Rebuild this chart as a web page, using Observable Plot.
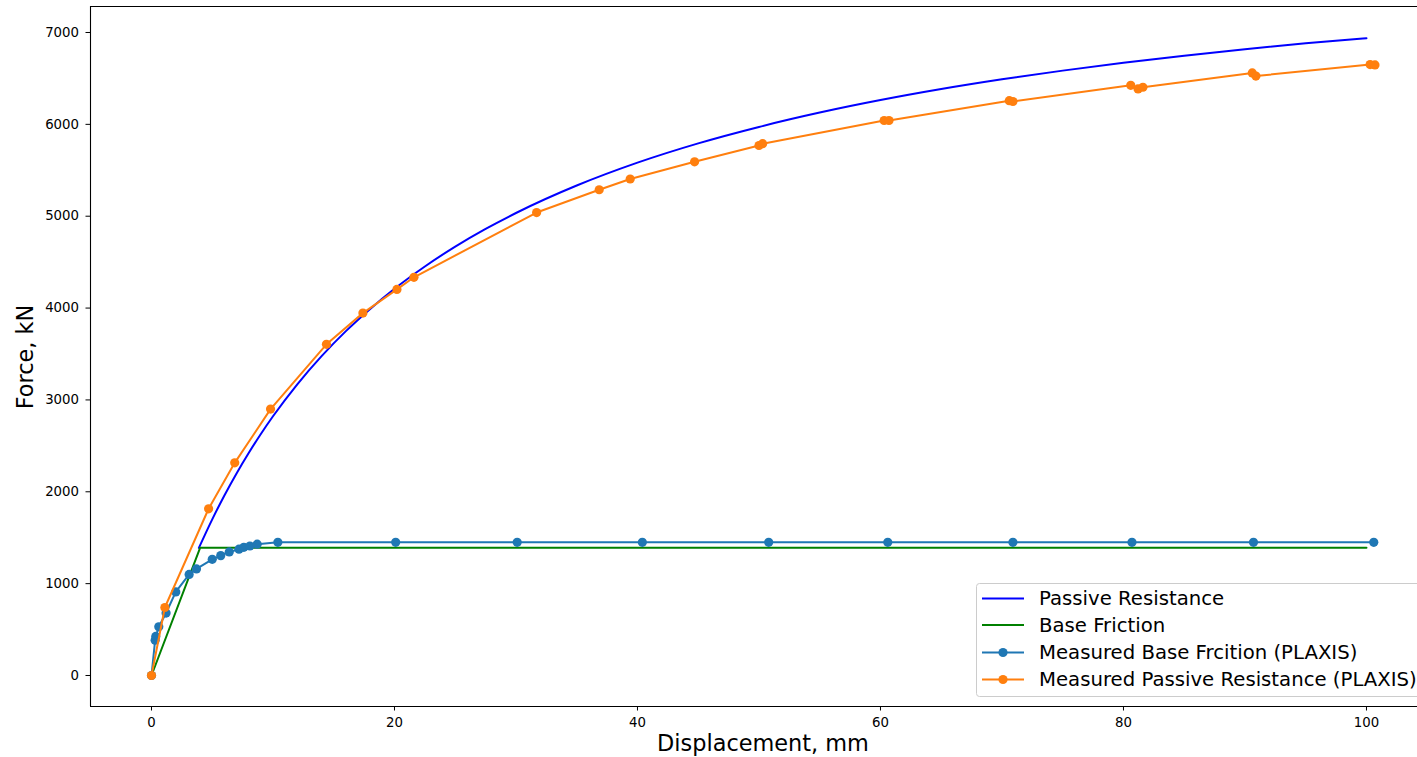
<!DOCTYPE html>
<html>
<head>
<meta charset="utf-8">
<script src="https://cdn.jsdelivr.net/npm/d3@7"></script>
<script src="https://cdn.jsdelivr.net/npm/@observablehq/plot@0.6"></script>
<style>
  html, body { margin: 0; padding: 0; background: white; overflow: hidden; }
  #chart { width: 1417px; height: 757px; }
</style>
</head>
<body>
<div id="chart"></div>
<script>
// ---- Data ----
const xTicks = [0, 20, 40, 60, 80, 100];
const yTicks = [0, 1000, 2000, 3000, 4000, 5000, 6000, 7000];

// Passive Resistance (analytical curve)
const passiveDisp  = [3.9, 5, 6, 7, 8, 9, 10, 12, 14, 16, 18, 20, 22.5, 25, 27.5, 30, 35, 40, 45, 50, 55, 60, 65, 70, 75, 80, 85, 90, 95, 100];
const passiveForce = [1389, 1700, 1960, 2200, 2422, 2629, 2822, 3170, 3477, 3749, 3991, 4210, 4453, 4669, 4862, 5035, 5334, 5583, 5793, 5972, 6128, 6264, 6384, 6490, 6585, 6671, 6748, 6818, 6882, 6938];

// Base Friction (analytical)
const baseDisp  = [0, 4, 100];
const baseForce = [0, 1390, 1390];

// Measured Base Frcition (PLAXIS)
const mbDisp  = [0, 0.3, 0.35, 0.6, 1.2, 2.0, 3.1, 3.7, 5.0, 5.7, 6.4, 7.2, 7.6, 8.1, 8.7, 10.4, 20.1, 30.1, 40.4, 50.8, 60.6, 70.9, 80.7, 90.7, 100.6];
const mbForce = [0, 385, 425, 530, 680, 910, 1100, 1160, 1265, 1305, 1345, 1375, 1395, 1410, 1430, 1450, 1450, 1450, 1450, 1450, 1450, 1450, 1450, 1450, 1450];

// Measured Passive Resistance (PLAXIS)
const mpDisp  = [0, 1.1, 4.7, 6.85, 9.8, 14.4, 17.4, 20.2, 21.6, 31.7, 36.85, 39.4, 44.7, 50.0, 50.3, 60.3, 60.7, 70.6, 70.9, 80.6, 81.2, 81.6, 90.6, 90.9, 100.3, 100.7];
const mpForce = [0, 740, 1815, 2315, 2900, 3605, 3945, 4203, 4335, 5040, 5288, 5405, 5592, 5770, 5790, 6042, 6042, 6258, 6249, 6425, 6386, 6404, 6560, 6526, 6651, 6647];

const seriesNames = ["Passive Resistance", "Base Friction", "Measured Base Frcition (PLAXIS)", "Measured Passive Resistance (PLAXIS)"];
const seriesColors = ["#0000ff", "#008000", "#1f77b4", "#ff7f0e"];
const seriesMarkers = [false, false, true, true];

const zip = (xs, ys) => xs.map((x, i) => ({x, y: ys[i]}));
const passive = zip(passiveDisp, passiveForce);
const base = zip(baseDisp, baseForce);
const mBase = zip(mbDisp, mbForce);
const mPassive = zip(mpDisp, mpForce);

const xDomain = [-5.02, 104.2];
const yDomain = [-337.5, 7283];
const R = 4.6;

const svg = Plot.plot({
  width: 1417,
  height: 757,
  marginLeft: 90,
  marginRight: 0,
  marginTop: 6,
  marginBottom: 51,
  x: {domain: xDomain},
  y: {domain: yDomain},
  style: {fontFamily: "DejaVu Sans", fontSize: "13.3px", color: "black", background: "white", overflow: "visible"},
  marks: [
    Plot.axisX({ticks: xTicks, tickSize: 4.5, tickPadding: 6.5, label: null, tickFormat: d3.format("d"), fontSize: 13.3}),
    Plot.axisY({ticks: yTicks, tickSize: 4.5, tickPadding: 7, label: null, tickFormat: d3.format("d"), fontSize: 13.3}),
    Plot.ruleX([xDomain[0]], {stroke: "black", strokeWidth: 1.1}),
    Plot.ruleY([yDomain[0]], {stroke: "black", strokeWidth: 1.1}),
    Plot.ruleY([yDomain[1]], {stroke: "black", strokeWidth: 1.1}),
    Plot.line(passive, {x: "x", y: "y", stroke: seriesColors[0], strokeWidth: 2, curve: "monotone-x"}),
    Plot.line(base, {x: "x", y: "y", stroke: seriesColors[1], strokeWidth: 2}),
    Plot.line(mBase, {x: "x", y: "y", stroke: seriesColors[2], strokeWidth: 2}),
    Plot.dot(mBase, {x: "x", y: "y", fill: seriesColors[2], r: R, stroke: "none"}),
    Plot.line(mPassive, {x: "x", y: "y", stroke: seriesColors[3], strokeWidth: 2}),
    Plot.dot(mPassive, {x: "x", y: "y", fill: seriesColors[3], r: R, stroke: "none"})
  ]
});

document.getElementById("chart").appendChild(svg);

const s = d3.select(svg);
// Axis titles
s.append("text")
  .attr("x", 763).attr("y", 751)
  .attr("text-anchor", "middle")
  .attr("font-family", "DejaVu Sans")
  .attr("font-size", "22.4px")
  .attr("fill", "black")
  .text("Displacement, mm");
s.append("text")
  .attr("transform", "translate(33,357) rotate(-90)")
  .attr("text-anchor", "middle")
  .attr("font-family", "DejaVu Sans")
  .attr("font-size", "22.4px")
  .attr("fill", "black")
  .text("Force, kN");

// Legend
const lg = s.append("g");
lg.append("rect")
  .attr("x", 976.5).attr("y", 583.5)
  .attr("width", 520).attr("height", 113)
  .attr("rx", 3).attr("ry", 3)
  .attr("fill", "white").attr("fill-opacity", 0.8)
  .attr("stroke", "#cccccc").attr("stroke-width", 1);
const rowY = [598.5, 625, 652.5, 679.5];
seriesNames.forEach((name, i) => {
  const y = rowY[i];
  lg.append("line")
    .attr("x1", 982).attr("x2", 1024).attr("y1", y).attr("y2", y)
    .attr("stroke", seriesColors[i]).attr("stroke-width", 2);
  if (seriesMarkers[i]) {
    lg.append("circle").attr("cx", 1003).attr("cy", y).attr("r", R).attr("fill", seriesColors[i]);
  }
  lg.append("text")
    .attr("x", 1039).attr("y", y)
    .attr("dy", "0.35em")
    .attr("text-anchor", "start")
    .attr("font-family", "DejaVu Sans")
    .attr("font-size", "19.7px")
    .attr("fill", "black")
    .text(name);
});
</script>
</body>
</html>
